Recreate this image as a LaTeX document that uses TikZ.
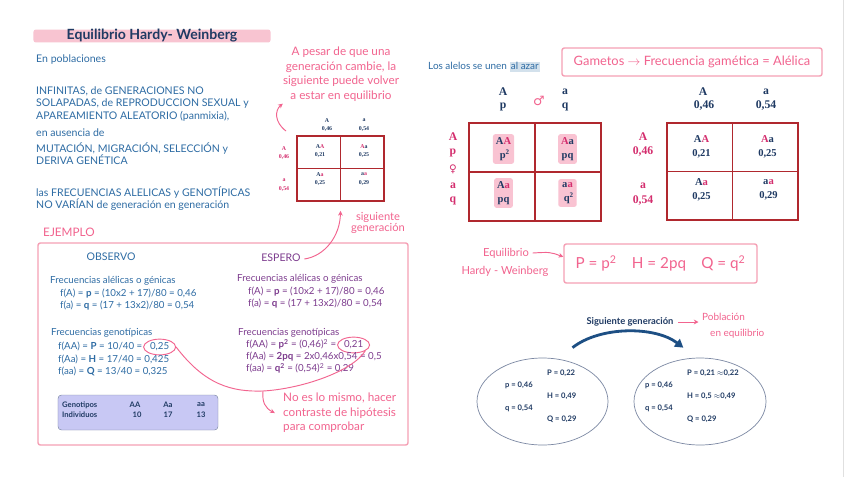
\documentclass[tikz,border=0pt]{standalone}
\usepackage{fontspec}
\setmainfont{Lato}
\newfontfamily\punfont{Liberation Serif}
\newfontfamily\symfont{DejaVu Sans}
\usetikzlibrary{positioning,arrows.meta,shapes.geometric}
\definecolor{navy}{HTML}{1F3A63}
\definecolor{steel}{HTML}{2E6CA4}
\definecolor{hpink}{HTML}{F2648F}
\definecolor{boxpink}{HTML}{F5A0B5}
\definecolor{titlebar}{HTML}{F8C4D1}
\definecolor{purp}{HTML}{7D3C8E}
\definecolor{magen}{HTML}{D42E6E}
\definecolor{punred}{HTML}{B0282E}
\definecolor{hilite}{HTML}{F9C3D2}
\definecolor{lav}{HTML}{C8C8F4}
\definecolor{azar}{HTML}{D3E1EC}
\definecolor{ellgray}{HTML}{7C88A3}
\definecolor{arcblue}{HTML}{1D4F84}
\begin{document}
\begin{tikzpicture}[
  x=0.03cm, y=-0.03cm,
  body/.style={anchor=west, inner sep=0pt, text=steel, font=\fontsize{9}{10.3}\selectfont, align=left},
  hand/.style={inner sep=0pt, text=hpink, font=\fontsize{10}{12.4}\selectfont, align=center},
  pinkbox/.style={draw=boxpink, line width=1.2pt, rounded corners=2pt},
  punbox/.style={draw=punred, line width=1.5pt},
  hdr/.style={inner sep=0pt, font=\punfont\bfseries\fontsize{10}{12}\selectfont, text=navy},
  lhdr/.style={hdr, text=magen},
  cell/.style={inner sep=0pt, align=center, font=\punfont\bfseries\fontsize{9}{12.5}\selectfont, text=navy},
  gcell/.style={cell, fill=hilite, rounded corners=2pt, inner xsep=2.5pt, inner ysep=2.5pt},
  mini/.style={inner sep=0pt, align=center, font=\punfont\bfseries\fontsize{5}{7}\selectfont, text=navy},
  exL/.style={anchor=west, inner sep=0pt, text=steel, text height=6.5pt, text depth=2pt, font=\fontsize{8.3}{10}\selectfont},
  exR/.style={exL, text=purp},
  circ/.style={ellipse, draw=hpink, line width=0.8pt, inner xsep=1.5pt, inner ysep=0.5pt},
  ellval/.style={anchor=west, inner sep=0pt, text=navy, font=\bfseries\fontsize{6.5}{8}\selectfont},
  tblt/.style={inner sep=0pt, text=navy, font=\bfseries\fontsize{6.5}{7.5}\selectfont},
  harrow/.style={draw=hpink, line width=0.8pt, -{Stealth[length=4pt,width=4pt]}},
  bigarrow/.style={draw=arcblue, line width=2.4pt, -{Triangle[length=7pt,width=8pt]}},
]
  \fill[white] (0,0) rectangle (848,477);
  \useasboundingbox (0,0) rectangle (848,477);
  \draw[black!12] (843,0) -- (843,477);

  % titulo y condiciones
  \node[fill=titlebar, rounded corners=2pt, minimum width=7.11cm, minimum height=0.36cm, inner sep=0pt,
        text=navy, font=\bfseries\fontsize{12}{14}\selectfont] (title) at (152,36) {Equilibrio Hardy- Weinberg};
  \node[body] (intro) at (36,60) {En poblaciones};
  \node[body] (cond) at (36,104) {INFINITAS, de GENERACIONES NO\\SOLAPADAS, de REPRODUCCION SEXUAL y\\APAREAMIENTO ALEATORIO (panmixia),};
  \node[body] (aus) at (36,133) {en ausencia de};
  \node[body] (fact) at (36,154) {MUTACIÓN, MIGRACIÓN, SELECCIÓN y\\DERIVA GENÉTICA};
  \node[body] (concl) at (36,199) {las FRECUENCIAS ALELICAS y GENOTÍPICAS\\NO VARÍAN de generación en generación};

  % nota y cuadro pequeño
  \node[hand] (note1) at (341,74) {A pesar de que una\\generación cambie, la\\siguiente puede volver\\a estar en equilibrio};
  \coordinate (n1tail) at (286,131);
  \draw[harrow] (n1tail) .. controls (274,122) and (275,110) .. ([yshift=-2pt]note1.south west);

  \node[punbox, line width=1pt, minimum width=2.61cm, minimum height=1.95cm] (sq) at (340.5,168.5) {};
  \draw[punred, line width=1pt] (sq.north) -- (sq.south) (sq.west) -- (sq.east);
  \node[mini] (sqA) at (327,125) {A\\0,46};
  \node[mini] (sqa) at (364,125) {a\\0,54};
  \node[mini, text=magen] (sqlA) at (284,153) {A\\0,46};
  \node[mini, text=magen] (sqla) at (284,185) {a\\0,54};
  \node[mini] (s11) at (320,151) {A\textcolor{magen}{A}\\0,21};
  \node[mini] (s12) at (364,151) {\textcolor{magen}{A}a\\0,25};
  \node[mini] (s21) at (320,179) {A\textcolor{magen}{a}\\0,25};
  \node[mini] (s22) at (364,179) {a\textcolor{magen}{a}\\0,29};
  \node[hand, font=\fontsize{9.5}{10}\selectfont] (sig) at (378,223) {siguiente\\generación};

  % ejemplo
  \node[hand, anchor=west] (ejem) at (43,232) {EJEMPLO};
  \draw[pinkbox] (38,243) rectangle (408,445);
  \node[exL, anchor=center, font=\fontsize{9}{10}\selectfont] (obs) at (111,258) {OBSERVO};
  \node[exR, anchor=center, font=\fontsize{9}{10}\selectfont] (espero) at (281,259) {ESPERO};
  \draw[harrow] ([xshift=3pt]espero.east) .. controls (325,256) and (340,236) .. ([yshift=-0.28cm]sq.south);

  \node[exL] (l1) at (50,281) {Frecuencias alélicas o génicas};
  \node[exL] (l2) at (60,294) {f(A) = \textbf{p} = (10x2 + 17)/80 = 0,46};
  \node[exL] (l3) at (60,306) {f(a) = \textbf{q} = (17 + 13x2)/80 = 0,54};
  \node[exL] (l4) at (51,333) {Frecuencias genotípicas};
  \node[exL] (l5) at (58,347) {f(AA) = \textbf{P} = 10/40 =};
  \node[exL, circ, right=0.5pt of l5] (c025) {0,25};
  \node[exL] (l6) at (58,360) {f(Aa) = \textbf{H} = 17/40 = 0,425};
  \node[exL] (l7) at (58,372) {f(aa) = \textbf{Q} = 13/40 = 0,325};

  \node[exR] (r1) at (237,279) {Frecuencias alélicas o génicas};
  \node[exR] (r2) at (248,292) {f(A) = \textbf{p} = (10x2 + 17)/80 = 0,46};
  \node[exR] (r3) at (248,304) {f(a) = \textbf{q} = (17 + 13x2)/80 = 0,54};
  \node[exR] (r4) at (238,333) {Frecuencias genotípicas};
  \node[exR] (r5) at (246,345) {f(AA) = \textbf{p\textsuperscript{2}} = (0,46)\textsuperscript{2} =};
  \node[exR, circ, right=0.5pt of r5] (c021) {0,21};
  \node[exR] (r6) at (246,357) {f(Aa) = \textbf{2pq} = 2x0,46x0,54 = 0,5};
  \node[exR] (r7) at (246,369) {f(aa) = \textbf{q\textsuperscript{2}} = (0,54)\textsuperscript{2} = 0,29};

  \coordinate (hook) at (263,391);
  \draw[hpink, line width=0.8pt] (c025.east) .. controls (205,385) and (232,392) .. (hook)
    .. controls (300,389) and (352,372) .. (c021.south east);
  \node[hand, anchor=west, align=left] (note2) at (283,413) {No es lo mismo, hacer\\contraste de hipótesis\\para comprobar};
  \draw[harrow] (hook) .. controls (262,402) and (265,408) .. ([xshift=-7pt]note2.west);

  \node[draw=ellgray, fill=lav, rounded corners=3pt, minimum width=4.8cm, minimum height=1.05cm] (tbl) at (138,412.5) {};
  \node[tblt, anchor=west] (gen) at (62,405) {Genotipos};
  \node[tblt, anchor=west] (ind) at (62,415) {Individuos};
  \node[tblt] (tAA) at (135,405) {AA};
  \node[tblt] (tAa) at (168,405) {Aa};
  \node[tblt] (taa) at (201,405) {aa};
  \node[tblt] (n10) at (137,415) {10};
  \node[tblt] (n17) at (168,415) {17};
  \node[tblt] (n13) at (201,415) {13};

  % cruce al azar
  \node[exL, font=\fontsize{8.5}{10}\selectfont] (alelos) at (428,67) {Los alelos se unen};
  \node[exL, font=\fontsize{8.5}{10}\selectfont, fill=azar, inner xsep=1pt, right=2pt of alelos] (azar) {al azar};
  \node[pinkbox, minimum width=7.8cm, minimum height=0.84cm, text=hpink, font=\fontsize{11}{12}\selectfont] (gam) at (692,62)
    {Gametos \(\rightarrow\) Frecuencia gamética = Alélica};

  \node[punbox, minimum width=3.96cm, minimum height=2.94cm] (pq) at (535,172) {};
  \draw[punred, line width=1.5pt] (pq.north) -- (pq.south) (pq.west) -- (pq.east);
  \node[hdr] (hA) at (503,92) {A};
  \node[hdr] (hp) at (503,107) {p};
  \node[text=hpink, inner sep=0pt, font=\symfont\fontsize{11}{12}\selectfont] (male) at (539,101) {♂};
  \node[hdr] (ha) at (565,92) {a};
  \node[hdr] (hq) at (565,107) {q};
  \node[lhdr] (vA) at (453,137) {A};
  \node[lhdr] (vp) at (453,153) {p};
  \node[inner sep=0pt, text=magen, font=\symfont\fontsize{9}{10}\selectfont] (female) at (453,169) {♀};
  \node[lhdr] (va) at (453,186) {a};
  \node[lhdr] (vq) at (453,201) {q};
  \node[gcell] (g11) at (503.5,149) {A\textcolor{magen}{A}\\\ p\textsuperscript{2}};
  \node[gcell] (g12) at (567.5,149) {\textcolor{magen}{A}a\\pq};
  \node[gcell] (g21) at (503.5,193) {A\textcolor{magen}{a}\\pq};
  \node[gcell] (g22) at (567.5,193) {a\textcolor{magen}{a}\\\ q\textsuperscript{2}};

  \node[punbox, minimum width=3.93cm, minimum height=2.91cm] (pr) at (732.5,171.5) {};
  \draw[punred, line width=1.5pt] (pr.north) -- (pr.south) (pr.west) -- (pr.east);
  \node[hdr] (kA) at (703,92) {A};
  \node[hdr] (k46) at (704,106) {0,46};
  \node[hdr] (ka) at (766,92) {a};
  \node[hdr] (k54) at (766,106) {0,54};
  \node[lhdr] (wA) at (643,137) {A};
  \node[lhdr] (w46) at (643,152) {0,46};
  \node[lhdr] (wa) at (643,186) {a};
  \node[lhdr] (w54) at (643,201) {0,54};
  \node[cell] (f11) at (701.5,147) {A\textcolor{magen}{A}\\0,21};
  \node[cell] (f12) at (767.5,147) {\textcolor{magen}{A}a\\0,25};
  \node[cell] (f21) at (701.5,190) {A\textcolor{magen}{a}\\0,25};
  \node[cell] (f22) at (768.5,190) {a\textcolor{magen}{a}\\0,29};

  % equilibrio
  \node[hand, font=\fontsize{9.5}{10}\selectfont] (eq1) at (506,253) {Equilibrio};
  \node[hand, font=\fontsize{9.5}{10}\selectfont] (eq2) at (505,271) {Hardy - Weinberg};
  \node[pinkbox, minimum width=5.79cm, minimum height=1.17cm, text=hpink, font=\fontsize{13}{15}\selectfont] (hwbox) at (660.5,263.5)
    {P = p\textsuperscript{2}\quad H = 2pq\quad Q = q\textsuperscript{2}};
  \draw[harrow] ([xshift=3pt]eq1.east) .. controls (550,252) .. ([yshift=0.2cm]hwbox.west);

  % siguiente generacion
  \node[inner sep=0pt, text=navy, font=\bfseries\fontsize{8}{9}\selectfont] (sig2) at (630,322) {Siguiente generación};
  \node[hand, anchor=west, font=\fontsize{8.5}{10}\selectfont] (pob1) at (702,317) {Población};
  \node[hand, anchor=west, font=\fontsize{8.5}{10}\selectfont] (pob2) at (710,334) {en equilibrio};
  \coordinate (pobin) at (sig2.east -| pob1.west);
  \draw[harrow] ([xshift=4pt]sig2.east) -- ([xshift=-3pt]pobin);

  \node[ellipse, draw=ellgray, line width=0.6pt, minimum width=3.93cm, minimum height=2.61cm] (ellL) at (542.5,401.5) {};
  \node[ellipse, draw=ellgray, line width=0.6pt, minimum width=3.96cm, minimum height=2.61cm] (ellR) at (700,401.5) {};
  \draw[bigarrow] ([xshift=0.9cm,yshift=0.3cm]ellL.north) .. controls (600,326) and (655,326) .. ([xshift=-0.5cm,yshift=0.3cm]ellR.north);

  \node[ellval] (eP) at (547,373) {P = 0,22};
  \node[ellval] (ep) at (505,385) {p = 0,46};
  \node[ellval] (eH) at (547,396) {H = 0,49};
  \node[ellval] (eq) at (505,408) {q = 0,54};
  \node[ellval] (eQ) at (547,419) {Q = 0,29};
  \node[ellval] (fP) at (687,373) {P = 0,21 \(\approx\)0,22};
  \node[ellval] (fp) at (645,385) {p = 0,46};
  \node[ellval] (fH) at (687,396) {H = 0,5 \(\approx\)0,49};
  \node[ellval] (fq) at (645,408) {q = 0,54};
  \node[ellval] (fQ) at (687,419) {Q = 0,29};
\end{tikzpicture}
\end{document}
